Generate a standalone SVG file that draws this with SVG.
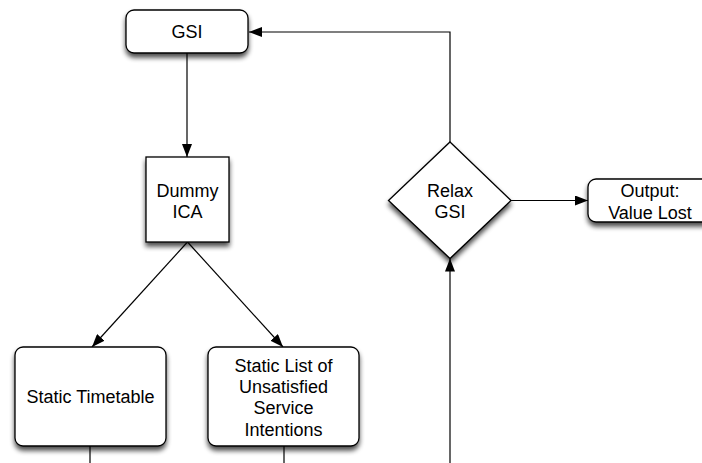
<svg xmlns="http://www.w3.org/2000/svg" width="702" height="463" viewBox="0 0 702 463">
<defs>
<filter id="sh" x="-20%" y="-20%" width="140%" height="150%">
<feGaussianBlur in="SourceAlpha" stdDeviation="2.5"/>
<feOffset dx="0" dy="4" result="b"/>
<feComponentTransfer><feFuncA type="linear" slope="0.7"/></feComponentTransfer>
<feMerge><feMergeNode/><feMergeNode in="SourceGraphic"/></feMerge>
</filter>
<marker id="ah" viewBox="0 0 13 10" refX="13" refY="5" markerWidth="13" markerHeight="10" markerUnits="userSpaceOnUse" orient="auto">
<path d="M0,0 L13,5 L0,10 Z" fill="#000"/>
</marker>
</defs>
<style>
.n{fill:#fff;stroke:#000;stroke-width:1.3}
.t{font-family:"Liberation Sans",Arial,sans-serif;font-size:18px;fill:#000;text-anchor:middle}
.c{fill:none;stroke:#000;stroke-width:1.2}
</style>
<rect width="702" height="463" fill="#fff"/>
<g id="connectors">
<path class="c" d="M187,53 L187,157" marker-end="url(#ah)"/>
<path class="c" d="M187.5,242 L92,347" marker-end="url(#ah)"/>
<path class="c" d="M187.5,242 L283,347" marker-end="url(#ah)"/>
<path class="c" d="M450,142 L450,32 L249,32" marker-end="url(#ah)"/>
<path class="c" d="M511,200.5 L588,200.5" marker-end="url(#ah)"/>
<path class="c" d="M450,463 L450,258.5" marker-end="url(#ah)"/>
<path class="c" d="M90,446 L90,463"/>
<path class="c" d="M284,446 L284,463"/>
</g>
<g id="gsi">
<rect class="n" x="126" y="10" width="122" height="43" rx="8" filter="url(#sh)"/>
<text class="t" x="187" y="38">GSI</text>
</g>
<g id="dummy-ica">
<rect class="n" x="146" y="157" width="83" height="85" filter="url(#sh)"/>
<text class="t" x="187.5" y="196.5">Dummy</text>
<text class="t" x="187.5" y="218.3">ICA</text>
</g>
<g id="relax-gsi">
<path class="n" d="M450,142 L511,200.5 L450,258.5 L388.5,200.5 Z" filter="url(#sh)"/>
<text class="t" x="450" y="196.5">Relax</text>
<text class="t" x="450" y="218.3">GSI</text>
</g>
<g id="output">
<rect class="n" x="588" y="179" width="124" height="43" rx="8" filter="url(#sh)"/>
<text class="t" x="650" y="197.3">Output:</text>
<text class="t" x="650" y="218.5">Value Lost</text>
</g>
<g id="static-timetable">
<rect class="n" x="15" y="347" width="151" height="99" rx="8" filter="url(#sh)"/>
<text class="t" x="90.5" y="403">Static Timetable</text>
</g>
<g id="static-list">
<rect class="n" x="208" y="347" width="151" height="99" rx="8" filter="url(#sh)"/>
<text class="t" x="283.5" y="371.7">Static List of</text>
<text class="t" x="283.5" y="393.2">Unsatisfied</text>
<text class="t" x="283.5" y="414.4">Service</text>
<text class="t" x="283.5" y="435.6">Intentions</text>
</g>
</svg>
